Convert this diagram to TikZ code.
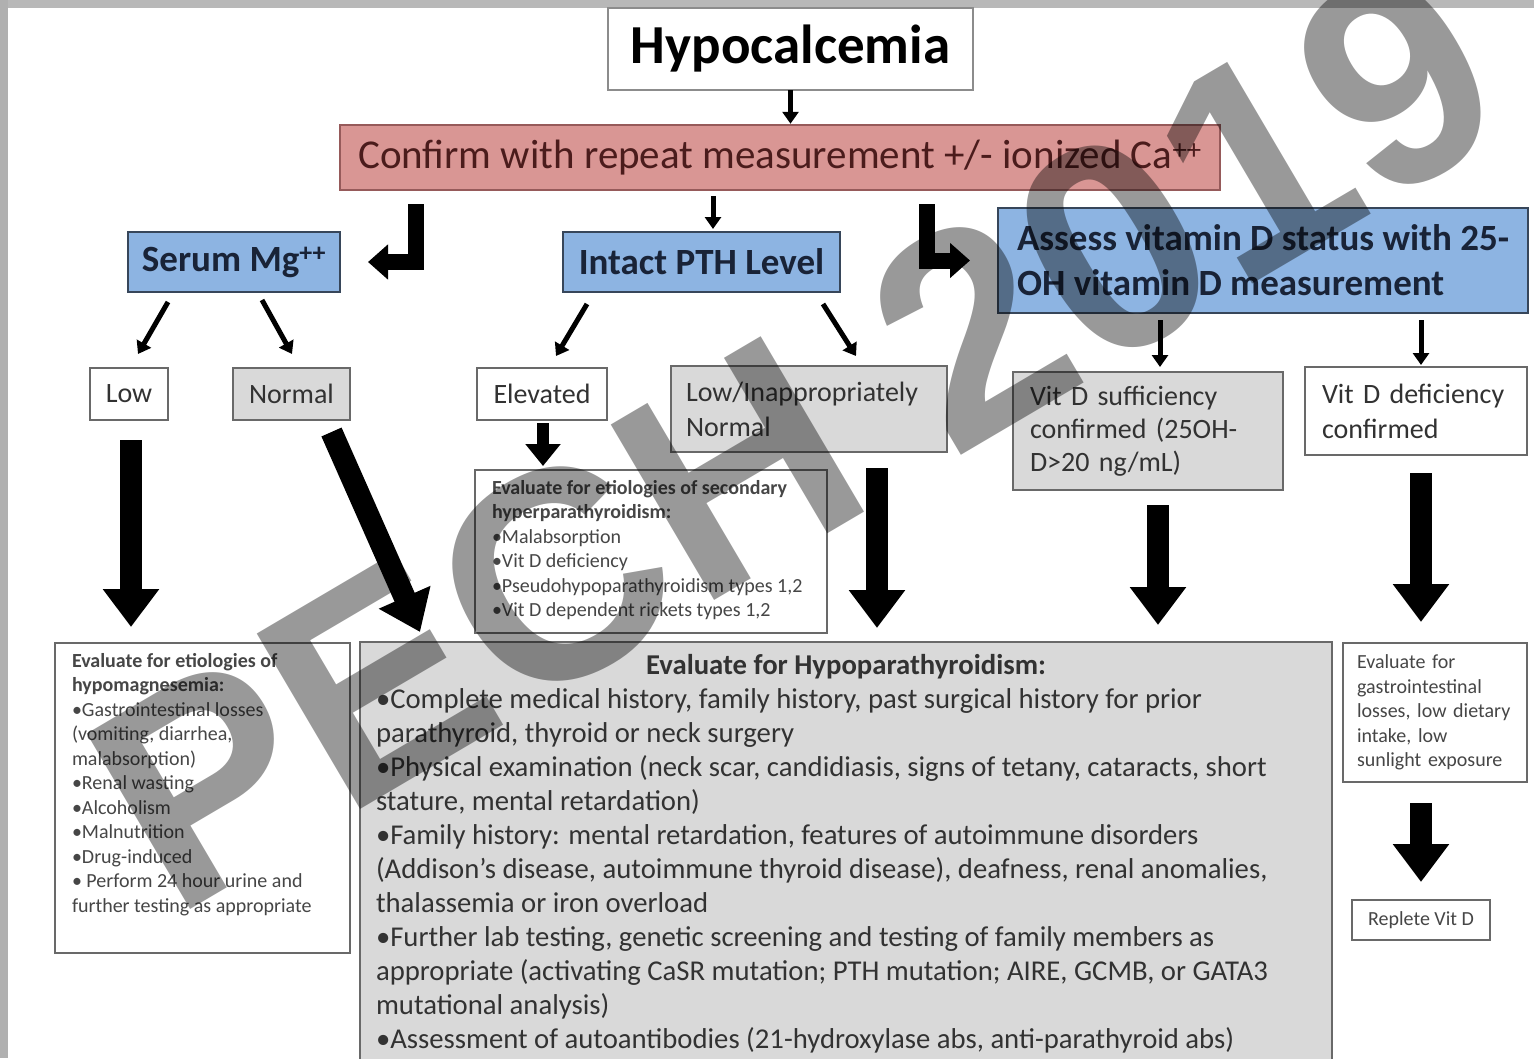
\documentclass[tikz,border=0pt]{standalone}
\usepackage{fontspec}
\setmainfont{Carlito}
\newfontfamily\wmfont{Liberation Sans}
\usetikzlibrary{arrows.meta,calc}
\definecolor{pinkfill}{RGB}{217,150,148}
\definecolor{pinktext}{RGB}{75,28,28}
\definecolor{pinkborder}{RGB}{150,90,90}
\definecolor{bluefill}{RGB}{141,180,226}
\definecolor{bluetext}{RGB}{25,35,55}
\definecolor{blueborder}{RGB}{55,70,90}
\definecolor{greyfill}{RGB}{217,217,217}
\definecolor{boxborder}{RGB}{105,105,105}
\definecolor{darktext}{RGB}{50,50,50}
\definecolor{smalltext}{RGB}{70,70,70}
\newcommand{\flowtext}[3]{\parbox[t][#2][t]{#1}{\raggedright #3}}
\tikzset{
  whitebox/.style={draw=boxborder, line width=2.5pt, fill=white, inner sep=0pt, outer sep=0pt},
  greybox/.style={whitebox, fill=greyfill},
  bluebox/.style={draw=blueborder, line width=2.5pt, fill=bluefill, text=bluetext, inner sep=0pt, outer sep=0pt, font=\bfseries\fontsize{37}{45}\selectfont},
  thinarrow/.style={line width=5pt, -{Triangle[width=16pt,length=12pt]}},
  midarrow/.style={line width=12pt, -{Triangle[width=34pt,length=22pt]}},
  fatarrow/.style={line width=22pt, -{Triangle[width=54pt,length=38pt]}},
  elbowarrow/.style={line width=16pt, -{Triangle[width=34pt,length=20pt]}},
  midtext/.style={text=darktext, font=\fontsize{28}{35}\selectfont},
  smalltxt/.style={text=smalltext, font=\fontsize{20}{24.5}\selectfont}
}
\begin{document}
\begin{tikzpicture}[x=1pt,y=-1pt]
\useasboundingbox (0,0) rectangle (1534,1058);
\fill[white] (0,0) rectangle (1534,1058);
\fill[black!28] (0,0) rectangle (1534,8);
\fill[black!31] (0,0) rectangle (8,1058);

% top level
\node[whitebox, draw=black!45, minimum width=365pt, minimum height=82pt, font=\bfseries\fontsize{55}{60}\selectfont] (hypo) at (790.5,49) {Hypocalcemia};
\node[draw=pinkborder, line width=2.5pt, fill=pinkfill, text=pinktext, minimum width=880pt, minimum height=65pt, inner sep=0pt, font=\fontsize{41}{48}\selectfont] (confirm) at (780,157.5) {Confirm with repeat measurement +/- ionized Ca\textsuperscript{++}};

% second level
\node[bluebox, minimum width=212pt, minimum height=60pt] (mg) at (234,262) {Serum Mg\textsuperscript{++}};
\node[bluebox, minimum width=277pt, minimum height=60pt] (pth) at (701.5,262) {Intact PTH Level};
\node[bluebox, minimum width=530pt, minimum height=105pt, align=left] (vitd) at (1263,260.5) {Assess vitamin D status with 25-\\OH vitamin D measurement};

% third level
\node[whitebox, midtext, minimum width=78pt, minimum height=52pt] (low) at (129,394) {Low};
\node[greybox, midtext, minimum width=117pt, minimum height=52pt] (normal) at (291.5,394) {Normal};
\node[whitebox, midtext, minimum width=130pt, minimum height=52pt] (elev) at (542,394) {Elevated};
\node[greybox, midtext, minimum width=276pt, minimum height=86pt, text width=246pt, inner xsep=15pt, align=left] (lowinap) at (809,409) {Low/Inappropriately\\Normal};
\node[greybox, midtext, font=\fontsize{28}{33}\selectfont, minimum width=270pt, minimum height=118pt, text width=236pt, inner xsep=17pt, align=left] (suff) at (1148,431) {Vit D sufficiency\\confirmed (25OH-\\D>20 ng/mL)};
\node[whitebox, midtext, minimum width=222pt, minimum height=88pt, text width=188pt, inner xsep=17pt, align=left] (defic) at (1416,411) {Vit D deficiency\\confirmed};

% detail boxes
\node[whitebox, smalltxt, anchor=north, inner xsep=17pt, inner ysep=10pt] (sec) at (651,470) {\flowtext{318pt}{143pt}{\textbf{Evaluate for etiologies of secondary}\\\textbf{hyperparathyroidism:}\\•Malabsorption\\•Vit D deficiency\\•Pseudohypoparathyroidism types 1,2\\•Vit D dependent rickets types 1,2}};
\node[whitebox, smalltxt, anchor=north, inner xsep=17pt, inner ysep=10pt] (hypomg) at (202.5,643) {\flowtext{261pt}{290pt}{\textbf{Evaluate for etiologies of}\\\textbf{hypomagnesemia:}\\•Gastrointestinal losses\\(vomiting, diarrhea,\\malabsorption)\\•Renal wasting\\•Alcoholism\\•Malnutrition\\•Drug-induced\\• Perform 24 hour urine and\\further testing as appropriate}};
\node[greybox, text=darktext, font=\fontsize{28.7}{34}\selectfont, anchor=north, inner xsep=16pt, inner ysep=12pt] (hypopara) at (846,642) {\flowtext{940pt}{440pt}{\makebox[\linewidth][c]{\textbf{Evaluate for Hypoparathyroidism:}}\\•Complete medical history, family history, past surgical history for prior\\parathyroid, thyroid or neck surgery\\•Physical examination (neck scar, candidiasis, signs of tetany, cataracts, short\\stature, mental retardation)\\•Family history: mental retardation, features of autoimmune disorders\\(Addison's disease, autoimmune thyroid disease), deafness, renal anomalies,\\thalassemia or iron overload\\•Further lab testing, genetic screening and testing of family members as\\appropriate (activating CaSR mutation; PTH mutation; AIRE, GCMB, or GATA3\\mutational analysis)\\•Assessment of autoantibodies (21-hydroxylase abs, anti-parathyroid abs)}};
\node[whitebox, smalltxt, minimum width=184pt, minimum height=139pt, text width=156pt, inner xsep=14pt, align=left] (gi) at (1435,712.5) {Evaluate for\\gastrointestinal\\losses, low dietary\\intake, low\\sunlight exposure};
\node[whitebox, smalltxt, minimum width=138pt, minimum height=40pt] (replete) at (1421,920) {Replete Vit D};

% connectors
\draw[thinarrow] (hypo.south) -- (hypo.south |- confirm.north);
\draw[thinarrow] ($(confirm.south -| pth.north)+(11.5,5)$) -- ($(pth.north)+(11.5,-3)$);
\draw[elbowarrow, shorten <=13pt, shorten >=28pt] (confirm.south -| 416,0) |- (mg.east);
\draw[elbowarrow, shorten <=13pt, shorten >=28pt] (confirm.south -| 927,0) |- (vitd.west);

\draw[thinarrow] ($(mg.south)+(-66,10)$) -- ($(low.north)+(9,-14)$);
\draw[thinarrow] ($(mg.south)+(28,8)$) -- ($(normal.north)+(0.5,-14)$);
\draw[thinarrow] ($(pth.south)+(-114.5,12)$) -- ($(elev.north)+(14,-12)$);
\draw[thinarrow] ($(pth.south)+(121.5,12)$) -- ($(lowinap.north)+(47,-10)$);
\draw[thinarrow] ($(vitd.south west)+(162,7)$) -- ($(suff.north)+(12,-5)$);
\draw[thinarrow] ($(vitd.south east)+(-107,7)$) -- ($(defic.north)+(5,-2)$);

\draw[fatarrow] ($(low.south)+(2,20)$) -- ($(hypomg.north -| low.south)+(2,-16)$);
\draw[fatarrow] ($(normal.south)+(40,12)$) -- ($(hypopara.north west)+(60,-10)$);
\draw[midarrow] ($(elev.south)+(1,3)$) -- ($(sec.north -| elev.south)+(1,-4)$);
\draw[fatarrow] ($(lowinap.south)+(68,16)$) -- ($(hypopara.north west)+(517,-14)$);
\draw[fatarrow] ($(suff.south)+(10,15)$) -- ($(hypopara.north east)+(-174,-17)$);
\draw[fatarrow] ($(defic.south)+(5,18)$) -- ($(gi.north)+(-14,-21)$);
\draw[fatarrow] ($(gi.south)+(-14,21)$) -- ($(replete.north)+(0,-18)$);

% watermark
\node[font=\wmfont\bfseries\fontsize{296}{296}\selectfont, text=black, text opacity=0.4, rotate=30.5, inner sep=0pt] (wm) at (795,435) {PECH 2019};
\end{tikzpicture}
\end{document}
